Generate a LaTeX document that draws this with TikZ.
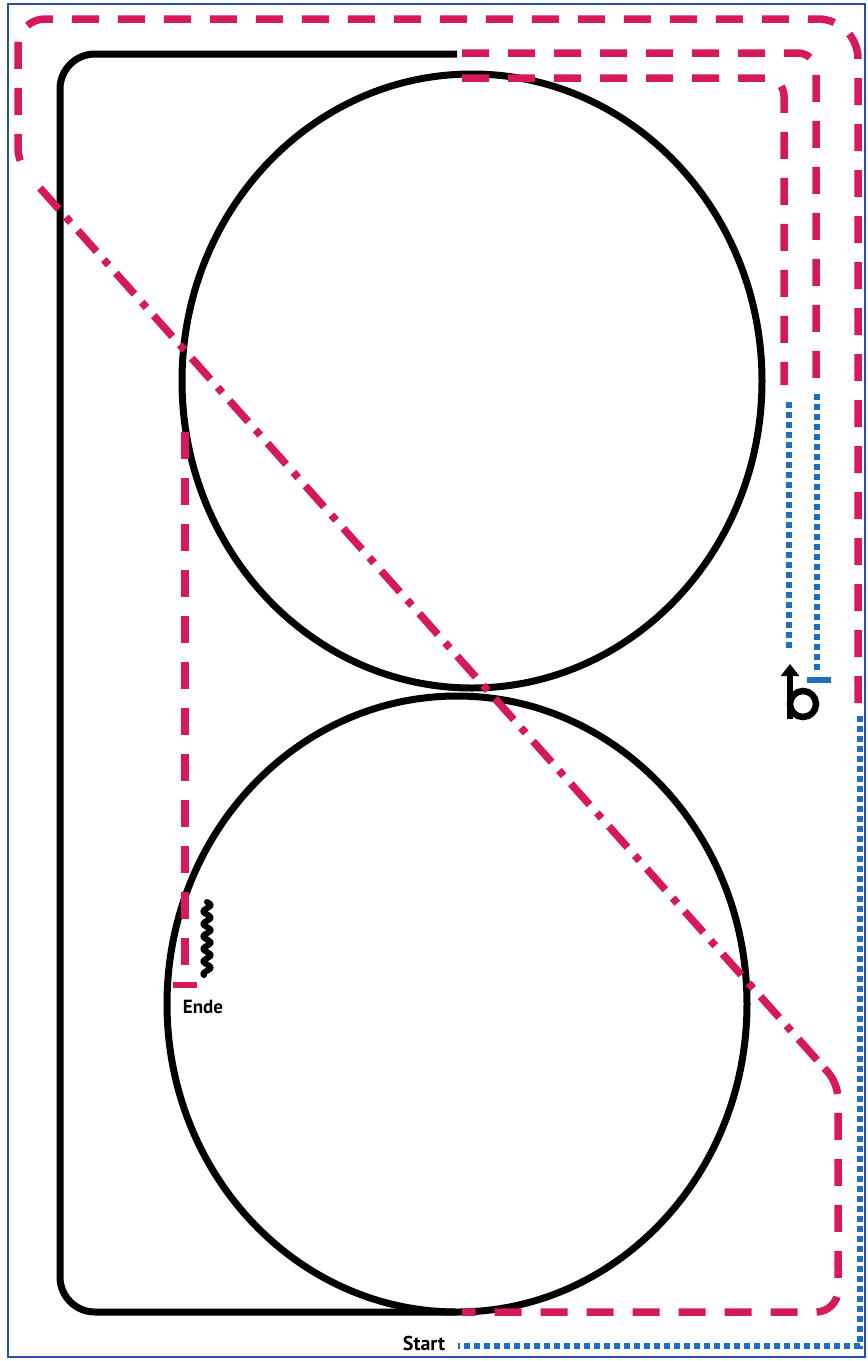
\documentclass[tikz,border=0pt]{standalone}
\usepackage{fontspec}
\setmainfont{PT Sans}
\usetikzlibrary{arrows.meta}
\definecolor{rd}{RGB}{214,24,92}
\definecolor{bl}{RGB}{30,110,196}
\definecolor{fr}{RGB}{40,80,170}
\begin{document}
\begin{tikzpicture}[x=1pt,y=-1pt,
  blk/.style={line width=7pt, black},
  reddash/.style={line width=7.5pt, rd, dash pattern=on 27pt off 19pt},
  reddashdot/.style={line width=7.5pt, rd, dash pattern=on 28pt off 11pt on 7pt off 11pt},
  bluedot/.style={line width=6.5pt, bl, dash pattern=on 6pt off 4pt},
  bar/.style={line width=5.5pt},
  lbl/.style={font=\bfseries\fontsize{19}{22}\selectfont, inner sep=0pt, anchor=base}]
\useasboundingbox (0,0) rectangle (868,1361);
\fill[white] (0,0) rectangle (868,1361);
\draw[fr, line width=2pt] (8,4) rectangle (865,1357);

% black outline and circles
\draw[blk, rounded corners=35pt] (457,54) -- (60,54) -- (60,1312) -- (456,1312);
\draw[blk] (472,381) ellipse [x radius=290, y radius=307];
\draw[blk] (457,1004) ellipse [x radius=290, y radius=308];

% wavy mark
\draw[line width=6pt, line cap=round] plot[domain=0:73, samples=120, smooth] ({207+3.5*sin(\x*28.8)}, {902+\x});

% red dashed paths
\draw[reddash, rounded corners=18pt] (462,78) -- (784,78) -- (784,385);
\draw[reddash, rounded corners=18pt] (462,53) -- (816,53) -- (816,394);
\draw[reddash] (858,703) [rounded corners=40pt] -- (858,19) [rounded corners=27pt] -- (18,19) [rounded corners=14pt] -- (18,163) -- (30,176);
\draw[reddashdot] (40,188) -- (826,1070);
\draw[reddash] (826,1070) [rounded corners=14pt] -- (838,1084) [rounded corners=22pt] -- (838,1312) -- (462,1312);
\draw[reddash] (185,432) -- (185,982);
\draw[rd, bar] (173,985) -- (197,985);

% blue dotted paths
\draw[bluedot] (789,402) -- (789,650);
\draw[bluedot] (817,394) -- (817,674);
\draw[bl, bar] (807,680) -- (831,680);
\draw[bluedot] (860,716) -- (860,1346) -- (458,1346);

% b symbol
\draw[line width=6.5pt, -{Triangle[width=18pt,length=12pt]}] (790,719) -- (790,664);
\draw[line width=6.5pt] (803,704) circle [radius=13];

% labels
\node[lbl, font=\bfseries\fontsize{20}{24}\selectfont] (start) at (424,1350) {Start};
\node[lbl] (ende) at (203,1013) {Ende};
\end{tikzpicture}
\end{document}
